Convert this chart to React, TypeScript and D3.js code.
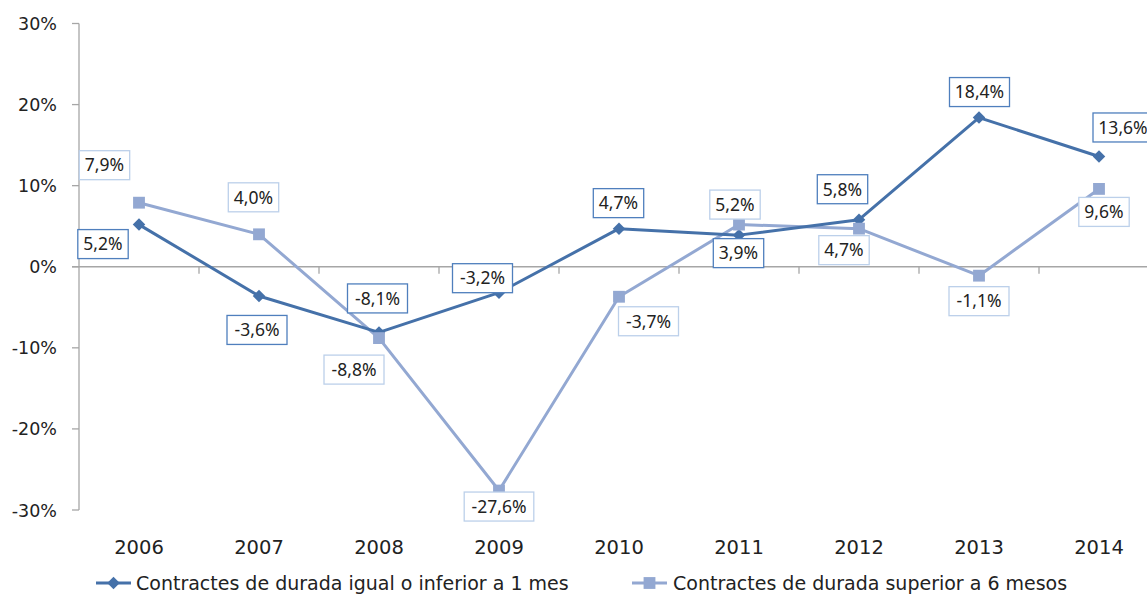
import React from "react";
import * as d3 from "d3";

const years = ["2006", "2007", "2008", "2009", "2010", "2011", "2012", "2013", "2014"];
const seriesShort = [5.2, -3.6, -8.1, -3.2, 4.7, 3.9, 5.8, 18.4, 13.6];
const seriesLong = [7.9, 4.0, -8.8, -27.6, -3.7, 5.2, 4.7, -1.1, 9.6];
const yTicks = [-30, -20, -10, 0, 10, 20, 30];
const legendNames = [
  "Contractes de durada igual o inferior a 1 mes",
  "Contractes de durada superior a 6 mesos",
];

// label placement offsets (layout only)
const shortLabelOffsets: [number, number][] = [
  [-36, 19.5], [-2, 34], [-1.5, -34], [-16.5, -14.5], [-0.5, -25.5],
  [-0.5, 18], [-16.5, -30.5], [0.5, -25.5], [24, -29],
];
const longLabelOffsets: [number, number][] = [
  [-34.5, -37.5], [-5.5, -37], [-25, 31.5], [0, 16], [29.5, 24.5],
  [-4, -20], [-15, 21.5], [0, 25.5], [5, 23],
];

const W = 1147;
const H = 595;
const DARK = "#4571A9";
const LIGHT = "#93A8D2";
const DARK_BORDER = "#4F7FBD";
const LIGHT_BORDER = "#BCD0EA";
const AXIS = "#A6A6A6";
const LABEL_FONT = "'Noto Sans', 'Open Sans', sans-serif";
const AXIS_FONT = "'DejaVu Sans', 'Noto Sans', sans-serif";

const fmt = (v: number) => v.toFixed(1).replace(".", ",") + "%";

function Label({ x, y, text, border }: { x: number; y: number; text: string; border: string }) {
  const w = text.length * 9.6 + 12;
  const h = 29;
  return (
    <g>
      <rect x={x - w / 2} y={y - h / 2} width={w} height={h} fill="#fff" stroke={border} strokeWidth={1.3} />
      <text x={x} y={y + 6.3} textAnchor="middle" fontSize={17.5} fill="#222" fontFamily={LABEL_FONT}>
        {text}
      </text>
    </g>
  );
}

export default function App() {
  const x = d3.scaleBand<string>().domain(years).range([79, 79 + 120 * years.length]).padding(0);
  const y = d3.scaleLinear().domain([-30, 30]).range([510, 23.5]);
  const cx = (yr: string) => (x(yr) as number) + x.bandwidth() / 2;

  const line = d3
    .line<number>()
    .x((_, i) => cx(years[i]))
    .y((d) => y(d));

  const diamond = d3.symbol().type(d3.symbolSquare).size(78)() as string;
  const square = d3.symbol().type(d3.symbolSquare).size(140)() as string;

  return (
    <svg
      width={W}
      height={H}
      style={{ position: "absolute", left: 0, top: 0, display: "block", background: "#fff" }}
      fontFamily={AXIS_FONT}
    >
      {/* Y axis */}
      <line x1={79} x2={79} y1={y(30)} y2={y(-30)} stroke={AXIS} strokeWidth={1.3} />
      {yTicks.map((t) => (
        <g key={t}>
          <line x1={72} x2={79} y1={y(t)} y2={y(t)} stroke={AXIS} strokeWidth={1.3} />
          <text x={57} y={y(t) + 6.5} textAnchor="end" fontSize={17.5} fill="#222">
            {t + "%"}
          </text>
        </g>
      ))}
      {/* X axis at zero */}
      <line x1={72} x2={W} y1={y(0)} y2={y(0)} stroke={AXIS} strokeWidth={1.3} />
      {years.map((yr, i) =>
        i === 0 ? null : (
          <line key={"t" + yr} x1={x(yr) as number} x2={x(yr) as number} y1={y(0)} y2={y(0) + 7} stroke={AXIS} strokeWidth={1.3} />
        )
      )}
      {years.map((yr) => (
        <text key={"l" + yr} x={cx(yr)} y={553.5} textAnchor="middle" fontSize={19.5} fill="#222">
          {yr}
        </text>
      ))}

      {/* Lines */}
      <path d={line(seriesLong) as string} fill="none" stroke={LIGHT} strokeWidth={3} strokeLinejoin="round" />
      <path d={line(seriesShort) as string} fill="none" stroke={DARK} strokeWidth={3} strokeLinejoin="round" />
      {seriesShort.map((v, i) => (
        <path key={"d" + i} d={diamond} transform={`translate(${cx(years[i])},${y(v)}) rotate(45)`} fill={DARK} />
      ))}
      {seriesLong.map((v, i) => (
        <path key={"s" + i} d={square} transform={`translate(${cx(years[i])},${y(v)})`} fill={LIGHT} />
      ))}

      {/* Labels */}
      {seriesShort.map((v, i) => (
        <Label
          key={"ls" + i}
          x={cx(years[i]) + shortLabelOffsets[i][0]}
          y={y(v) + shortLabelOffsets[i][1]}
          text={fmt(v)}
          border={DARK_BORDER}
        />
      ))}
      {seriesLong.map((v, i) => (
        <Label
          key={"ll" + i}
          x={cx(years[i]) + longLabelOffsets[i][0]}
          y={y(v) + longLabelOffsets[i][1]}
          text={fmt(v)}
          border={LIGHT_BORDER}
        />
      ))}

      {/* Legend */}
      <g>
        <line x1={96} x2={131} y1={583} y2={583} stroke={DARK} strokeWidth={3} />
        <path d={diamond} transform="translate(113.5,583) rotate(45)" fill={DARK} />
        <text x={136} y={589.5} fontSize={19} fill="#222">
          {legendNames[0]}
        </text>
        <line x1={632} x2={667} y1={583} y2={583} stroke={LIGHT} strokeWidth={3} />
        <path d={square} transform="translate(649.5,583)" fill={LIGHT} />
        <text x={673} y={589.5} fontSize={19} fill="#222">
          {legendNames[1]}
        </text>
      </g>
    </svg>
  );
}
